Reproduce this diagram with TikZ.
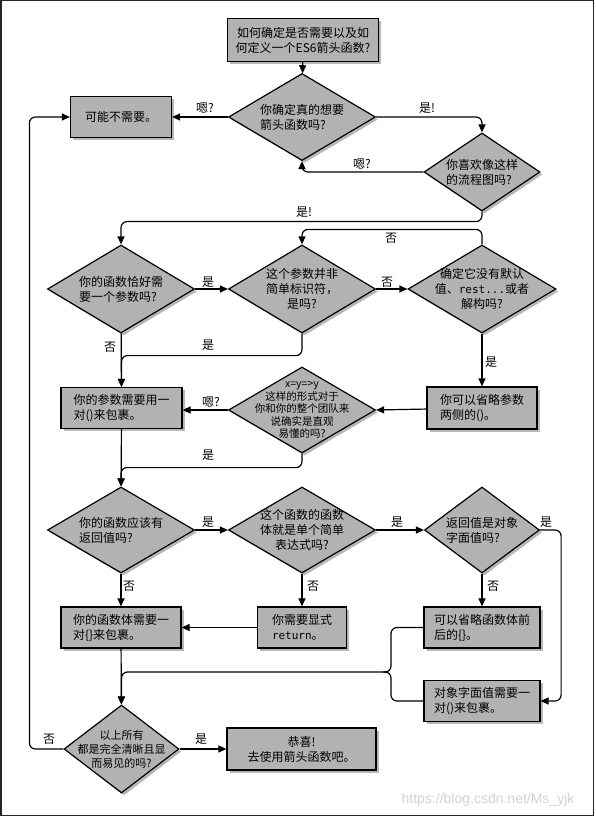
\documentclass[tikz,border=0pt]{standalone}
\usepackage{fontspec}
\setmainfont{Noto Sans CJK SC}
\setmonofont{DejaVu Sans Mono}
\newfontfamily\wmfont{Liberation Sans}
\usetikzlibrary{shapes.geometric,shadows,arrows.meta}

\begin{document}
\begin{tikzpicture}[x=1pt, y=-1pt,
    font=\fontsize{12}{15}\selectfont,
    every node/.style={inner sep=0pt},
    shade/.style={drop shadow={shadow xshift=2.5pt, shadow yshift=-2.5pt, opacity=.4, fill=black!70}},
    box/.style={draw, line width=1.2pt, fill=black!30, shade, align=left, minimum height=41pt},
    decision/.style={diamond, draw, line width=1.2pt, fill=black!30, shade, align=center,
      inner sep=-25pt, aspect=1.7, minimum width=147pt, minimum height=87pt},
    link/.style={line width=1.2pt, rounded corners=6pt, -{Triangle[length=8pt,width=7pt]}},
    small/.style={font=\fontsize{10.5}{12.5}\selectfont}]
  \useasboundingbox (0,0) rectangle (595,818);
  \draw[line width=1.5pt, black!85] (0.75,0.75) rectangle (593.5,815.5);

  % Boxes and decisions
  \node[box, minimum width=151pt, minimum height=43pt, align=center] (start) at (303,40) {如何确定是否需要以及如\\何定义一个ES6箭头函数?};
  \node[decision, align=left] (sure) at (302,117) {你确定真的想要\\箭头函数吗?};
  \node[box, minimum width=101pt, align=center] (maybe) at (121,117) {可能不需要。};
  \node[decision, align=left, minimum width=116pt, minimum height=78pt] (chart) at (482,172) {你喜欢像这样\\的流程图吗?};

  \node[decision, align=left, minimum height=88pt] (onearg) at (121,289) {你的函数恰好需\\要一个参数吗?};
  \node[decision, minimum height=88pt] (simple) at (302,289) {这个参数并非\\简单标识符，\\是吗?};
  \node[decision, minimum width=148pt, minimum height=88pt] (nodefault) at (482,289) {确定它没有默认\\值、\texttt{\fontsize{11}{15}\selectfont rest...}或者\\解构吗?};
  \node[box, minimum width=121pt] (wrapargs) at (121.5,408) {你的参数需要用一\\对()来包裹。};
  \node[box, minimum width=110pt, minimum height=42pt] (dropargs) at (482,408) {你可以省略参数\\两侧的()。};
  \node[decision, small, minimum height=86pt] (team) at (302,410) {x=y=>y\\这样的形式对于\\你和你的整个团队来\\说确实是直观\\易懂的吗?};

  \node[decision, align=left, minimum height=86pt] (retval) at (121,530) {你的函数应该有\\返回值吗?};
  \node[decision, minimum height=86pt] (single) at (302,530) {这个函数的函数\\体就是单个简单\\表达式吗?};
  \node[decision, align=left, minimum width=115pt, minimum height=86pt] (objlit) at (482,530) {返回值是对象\\字面值吗?};
  \node[box, minimum width=120pt] (wrapbody) at (121,627.5) {你的函数体需要一\\对\{\}来包裹。};
  \node[box, minimum width=89pt] (explicit) at (302,627.5) {你需要显式\\\texttt{\fontsize{11}{15}\selectfont return}。};
  \node[box, minimum width=116pt] (dropbody) at (482,627.5) {可以省略函数体前\\后的\{\}。};
  \node[box, minimum width=116pt] (wrapobj) at (482,701) {对象字面值需要一\\对()来包裹。};

  \node[decision, small, align=center, minimum width=115pt, minimum height=88pt, font=\fontsize{11}{14}\selectfont] (clear) at (121.5,749) {以上所有\\都是完全清晰且显\\而易见的吗?};
  \node[box, minimum width=149pt, minimum height=42pt, align=center] (done) at (301.5,749) {恭喜!\\去使用箭头函数吧。};

  \coordinate (merge) at (391,672);

  % Connectors
  \draw[link] (start) -- (sure);
  \draw[link] (sure) -- (maybe);
  \draw[link] (sure.east) -| (chart.north);
  \draw[link] (chart.west) -| (sure.south);
  \draw[link] (chart.south) -- ++(0,10) -| (onearg.north);
  \draw[link] (onearg) -- (simple);
  \draw[link] (simple) -- (nodefault);
  \draw[link] (nodefault.north) -- ++(0,-15) -| (simple.north);
  \draw[link] (onearg) -- (wrapargs);
  \draw[link] (simple.south) -- ++(0,22) -| (wrapargs.north);
  \draw[link] (nodefault) -- (dropargs);
  \draw[link] (dropargs) -- (team.east);
  \draw[link] (team.west) -- (wrapargs.east |- team.west);
  \draw[link] (wrapargs) -- (retval);
  \draw[link] (team.south) -- ++(0,14) -| (retval.north);
  \draw[link] (retval) -- (single);
  \draw[link] (single) -- (objlit);
  \draw[link] (objlit.east) -- ++(21,0) |- (wrapobj.east);
  \draw[link] (retval) -- (wrapbody);
  \draw[link] (single) -- (explicit);
  \draw[link] (objlit) -- (dropbody);
  \draw[link] (explicit) -- (wrapbody);
  \draw[link] (wrapbody) -- (clear);
  \draw[link] (dropbody.west) -| (merge) -| (clear.north);
  \draw[line width=1.2pt, rounded corners=6pt] (wrapobj.west) -| (merge) -- ++(-8,0);
  \draw[link] (clear.west) -- ++(-34,0) |- (maybe.west);
  \draw[link] (clear) -- (done);

  % Answers
  \node (a1) at (205,108) {嗯?};
  \node (a2) at (427,108) {是!};
  \node (a3) at (362,164) {嗯?};
  \node (a4) at (304,212) {是!};
  \node (a5) at (208,282) {是};
  \node (a6) at (387,282) {否};
  \node (a7) at (391,238) {否};
  \node (a8) at (110,347) {否};
  \node (a9) at (208,345) {是};
  \node (a10) at (491,362) {是};
  \node (a11) at (211,402) {嗯?};
  \node (a12) at (208,455) {是};
  \node (a13) at (208,522) {是};
  \node (a14) at (397,522) {是};
  \node (a15) at (546,522) {是};
  \node (a16) at (129,586) {否};
  \node (a17) at (313,586) {否};
  \node (a18) at (493,586) {否};
  \node (a19) at (49,739) {否};
  \node (a20) at (201,739) {是};

  \node[font=\wmfont\fontsize{14}{14}\selectfont, text=black!18] (mark) at (488,800) {https://blog.csdn.net/Ms\_yjk};
\end{tikzpicture}
\end{document}
